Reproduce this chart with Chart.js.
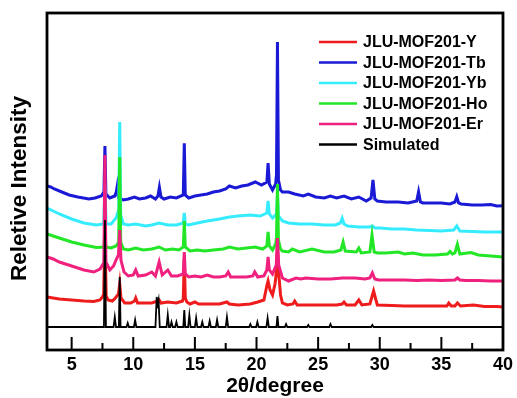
<!DOCTYPE html>
<html>
<head>
<meta charset="utf-8">
<script src="https://cdn.jsdelivr.net/npm/chart.js@4.4.1/dist/chart.umd.min.js"></script>
<style>
  body { margin: 0; background: #fff; }
  #wrap { width: 517px; height: 398px; }
</style>
</head>
<body>
<div id="wrap"><canvas id="xrd" width="517" height="398"></canvas></div>
<script>
// x ticks (2theta) and minor ticks
const majorTicks = [5, 10, 15, 20, 25, 30, 35, 40];
const minorTicks = [7.5, 12.5, 17.5, 22.5, 27.5, 32.5, 37.5];

const labels = ['JLU-MOF201-Y', 'JLU-MOF201-Tb', 'JLU-MOF201-Yb', 'JLU-MOF201-Ho', 'JLU-MOF201-Er', 'Simulated'];
const colors = ['#ee1c1c', '#1a1ad6', '#35ecff', '#22e626', '#f0207f', '#000000'];
const yTitle = 'Reletive Intensity';

// patterns as [2theta, intensity] (stacked, arbitrary units)
const patY = [[3.0,53],[3.5,52],[4,51],[5,50],[6,49],[6.8,48.5],[7.3,50],[7.5,53],[7.6,56],[7.7,122],[7.8,54],[7.95,50],[8.3,49],[8.55,52],[8.8,56],[8.9,66],[9.0,52],[9.3,47],[9.8,47],[10.1,49],[10.2,52],[10.35,47],[10.8,47],[11.5,47],[12.0,49],[12.1,50],[12.25,47],[12.8,48],[13.5,47],[14.0,49],[14.06,52],[14.14,92],[14.22,52],[14.35,48],[14.6,46],[15.0,48],[15.3,46],[16.2,46],[17.0,46],[17.6,48],[17.8,46],[18.5,45],[19.5,46],[20.1,48],[20.6,50],[20.85,65],[20.94,69],[21.1,60],[21.3,55],[21.5,66],[21.58,74],[21.7,102],[21.82,74],[21.95,55],[22.1,47],[22.5,45],[22.95,46],[23.1,49],[23.3,45],[24.5,45],[25.5,45],[26.5,45],[26.95,46],[27.1,48],[27.3,45],[28.0,45],[28.3,50],[28.55,45],[29.2,46],[29.5,59],[29.8,45],[31,44.5],[32,44],[33,44],[34,44],[35,44],[35.45,44],[35.6,47],[35.8,44],[36.1,44],[36.3,47],[36.55,44],[37.6,45],[38.5,43.5],[39.5,43.5],[40,43]];

const patTb = [[3.0,164],[3.3,163],[3.6,161],[4.2,158],[4.8,155],[5.5,153],[6.4,151],[6.9,152],[7.4,154],[7.62,158],[7.7,204],[7.78,156],[8.1,152],[8.5,154],[8.62,158],[8.7,164],[8.8,152],[9.2,150],[9.6,151],[10.1,153],[10.5,151],[11.0,152],[11.4,154],[11.8,151],[12.0,154],[12.12,162.7],[12.25,153],[12.5,151],[13.0,153],[13.5,152],[14.06,155],[14.14,206.7],[14.22,155],[14.5,152],[15,154],[15.5,155],[16,156],[16.5,158],[17,159],[17.5,161],[17.8,164],[18.3,162],[18.8,164],[19.3,165],[19.9,168],[20.4,165],[20.84,168],[20.94,187],[21.04,166],[21.3,160],[21.55,166],[21.62,175],[21.7,308],[21.78,170],[21.95,160],[22.1,158],[22.6,158],[23.1,156],[23.8,154],[24.2,156],[24.8,153],[25.5,152],[26,154],[26.5,152],[27.1,154],[27.7,151],[28.3,153],[28.9,149],[29.3,152],[29.45,170],[29.6,151],[29.8,149],[30.5,148],[31.5,148],[32.3,147],[33.0,149],[33.15,158.3],[33.3,148],[33.5,147],[34.3,147],[35,147],[35.7,146],[36.1,148],[36.25,153.3],[36.4,147],[36.6,146],[37.5,145],[38.3,145],[39,145.5],[39.5,144],[40,144.3]];

const patYb = [[3.0,142],[3.5,139],[4,136],[5,131],[6,127],[7,125],[7.6,126],[7.7,165],[7.8,126],[8.2,126],[8.6,132],[8.82,140],[8.9,228],[8.98,135],[9.2,126],[9.6,125],[10.2,126],[11,124],[11.5,125],[12.1,127],[12.8,125],[13.5,125],[14.06,127],[14.14,137],[14.22,126],[14.5,125],[15.2,127],[16,129],[17,131],[17.8,133],[18.5,134],[19.5,135],[20.3,134],[20.84,137],[20.94,149],[21.04,136],[21.3,132],[21.62,136],[21.7,155],[21.78,134],[22.1,129],[22.6,127],[23.5,126],[24.5,126],[25.5,125],[26.4,125],[26.8,127],[26.95,131.7],[27.1,126],[27.4,124],[28.3,123],[29.2,123],[29.4,124],[29.6,122],[30,122],[31,121],[32,121],[33,120],[34,119.5],[35,119],[36.0,120],[36.25,124],[36.5,119],[37.5,118.5],[38.5,118],[39.5,118],[40,118]];

const patHo = [[3.0,116],[3.5,114],[4,112],[5,108],[6,105],[7,102.5],[7.62,103],[7.7,120],[7.78,103],[8.2,102],[8.6,104],[8.82,108],[8.9,193],[8.98,108],[9.2,101],[9.6,100],[10.2,102],[10.8,100],[11.5,101],[12.1,103],[12.6,100],[13.2,101],[13.7,100],[14.06,103],[14.14,129],[14.22,103],[14.6,99],[15.2,100],[15.8,99],[16.5,100],[17.3,101],[17.8,103],[18.5,101],[19.2,102],[19.9,103],[20.5,101],[20.84,104],[20.94,118],[21.04,104],[21.3,100],[21.55,106],[21.62,112],[21.7,166],[21.78,110],[21.95,101],[22.1,99],[22.6,98],[22.9,101],[23.5,98],[24.5,101],[25.5,98],[26.3,98],[26.85,100],[27.03,108],[27.2,99],[28.1,98],[28.3,102],[28.5,97],[29.2,98],[29.37,115],[29.55,98],[29.8,97],[30.5,97],[31.5,98],[32,96],[32.7,97],[33.5,95],[34.5,95],[35.5,96],[35.7,98.5],[35.9,96],[36.1,97],[36.3,105.7],[36.5,96],[37.4,97.5],[38,95],[39,94],[40,93]];

const patEr = [[3.0,93],[3.5,91],[4,88],[5,84],[6,80],[6.8,78],[7.3,81],[7.55,86],[7.62,92],[7.7,195],[7.78,88],[8.1,80],[8.4,84],[8.6,90],[8.8,95],[8.9,120],[9.0,90],[9.25,78],[9.6,74],[10.0,75],[10.2,80],[10.4,74],[11.0,75],[11.5,78],[11.8,74],[12.1,88],[12.35,75],[12.8,80],[13.1,74],[13.6,74],[14.06,76],[14.14,98],[14.22,76],[14.5,73],[15,74],[15.5,73],[16,75],[16.5,73],[17,73],[17.5,74],[17.7,78],[17.9,73],[18.5,73],[19.2,73],[19.7,74],[19.86,78],[20.1,73],[20.6,74],[20.84,80],[20.94,93],[21.04,80],[21.3,76],[21.6,85],[21.7,112],[21.8,85],[22.1,72],[22.6,69],[23.2,72],[23.6,71],[24,72],[25,71],[26,71],[27,72],[28,72],[28.8,71],[29.2,72],[29.4,77],[29.6,71],[29.9,70],[31,70],[32,70],[33,69.5],[34,70],[35,69.5],[36.1,70],[36.3,72],[36.5,70],[37,69.5],[38,69.5],[39,69],[40,69]];

const patSim = [[3,23],[7.62,23],[7.7,130],[7.78,23],[8.4,23],[8.5,33],[8.6,23],[8.83,23],[8.9,73],[8.97,23],[9.45,23],[9.55,27],[9.65,23],[10.05,23],[10.15,30],[10.25,23],[11.8,23],[11.9,53],[11.98,46],[12.05,50],[12.15,23],[12.7,23],[12.8,35],[12.9,23],[13.0,23],[13.1,28],[13.2,23],[13.4,23],[13.5,28],[13.6,23],[14.06,23],[14.14,40],[14.22,23],[14.45,23],[14.55,35],[14.65,23],[15.0,23],[15.1,32],[15.2,23],[15.5,23],[15.6,28],[15.7,23],[16.1,23],[16.2,29],[16.3,23],[16.7,23],[16.8,30],[16.9,23],[17.5,23],[17.6,33],[17.7,23],[19.4,23],[19.5,26],[19.6,23],[19.97,23],[20.07,28],[20.17,23],[20.8,23],[20.9,32],[21.0,23],[21.62,23],[21.7,34],[21.78,23],[22.3,23],[22.4,26],[22.5,23],[24.1,23],[24.2,25],[24.3,23],[25.9,23],[26.0,26],[26.1,23],[29.3,23],[29.4,25],[29.5,23],[40,23]];

const patterns = [patY, patTb, patYb, patHo, patEr, patSim];
// lower order is drawn on top: simulated over Er over Ho over Yb over Tb over Y
const drawOrder = [5, 4, 3, 2, 1, 0];

const boldFont = "'Liberation Sans', Arial, sans-serif";

const frame = {
  id: 'frame',
  afterDatasetsDraw(chart) {
    const ctx = chart.ctx;
    const a = chart.chartArea;
    const x = chart.scales.x;
    ctx.save();
    ctx.strokeStyle = '#000';
    ctx.lineWidth = 2;
    ctx.beginPath();
    majorTicks.forEach(v => {
      const px = x.getPixelForValue(v);
      ctx.moveTo(px, a.bottom);
      ctx.lineTo(px, a.bottom - 13);
    });
    minorTicks.forEach(v => {
      const px = x.getPixelForValue(v);
      ctx.moveTo(px, a.bottom);
      ctx.lineTo(px, a.bottom - 7);
    });
    ctx.stroke();
    ctx.lineWidth = 2.8;
    ctx.strokeRect(a.left, a.top, a.right - a.left, a.bottom - a.top);

    // legend inside the plot, top right
    ctx.font = 'bold 16px ' + boldFont;
    ctx.textBaseline = 'middle';
    ctx.textAlign = 'left';
    chart.data.datasets.forEach((ds, i) => {
      const y = a.top + 29 + i * 20.5;
      ctx.strokeStyle = ds.borderColor;
      ctx.lineWidth = 2.5;
      ctx.beginPath();
      ctx.moveTo(a.right - 184, y);
      ctx.lineTo(a.right - 146, y);
      ctx.stroke();
      ctx.fillStyle = '#000';
      ctx.fillText(ds.label, a.right - 140, y + 1);
    });

    // y axis title
    ctx.translate(20, (a.top + a.bottom) / 2 + 7);
    ctx.rotate(-Math.PI / 2);
    ctx.font = 'bold 22.5px ' + boldFont;
    ctx.textAlign = 'center';
    ctx.fillText(yTitle, 0, 0);
    ctx.restore();
  }
};

new Chart(document.getElementById('xrd'), {
  type: 'line',
  data: {
    datasets: patterns.map((p, i) => ({
      label: labels[i],
      data: p,
      borderColor: colors[i],
      borderWidth: i === 5 ? 1.8 : 3,
      pointRadius: 0,
      tension: 0,
      fill: false,
      order: drawOrder[i]
    }))
  },
  options: {
    responsive: false,
    animation: false,
    devicePixelRatio: 1,
    layout: { padding: { top: 13, right: 11, left: 0, bottom: 0 } },
    plugins: {
      legend: { display: false },
      tooltip: { enabled: false }
    },
    scales: {
      x: {
        type: 'linear',
        min: 3,
        max: 40,
        afterBuildTicks: s => { s.ticks = majorTicks.map(v => ({ value: v })); },
        afterFit: s => { s.height = 48; },
        grid: { display: false, drawTicks: false },
        border: { display: false },
        ticks: {
          maxRotation: 0,
          padding: 4,
          color: '#000',
          font: { family: boldFont, size: 18, weight: 'bold' }
        },
        title: {
          display: true,
          text: '2θ/degree',
          color: '#000',
          padding: { top: 0, bottom: 1.5 },
          font: { family: boldFont, size: 21, weight: 'bold', lineHeight: 1 }
        }
      },
      y: {
        min: 0,
        max: 337,
        afterFit: s => { s.width = 47; },
        grid: { display: false, drawTicks: false },
        border: { display: false },
        ticks: { display: false },
        title: { display: false }
      }
    }
  },
  plugins: [frame]
});
</script>
</body>
</html>
